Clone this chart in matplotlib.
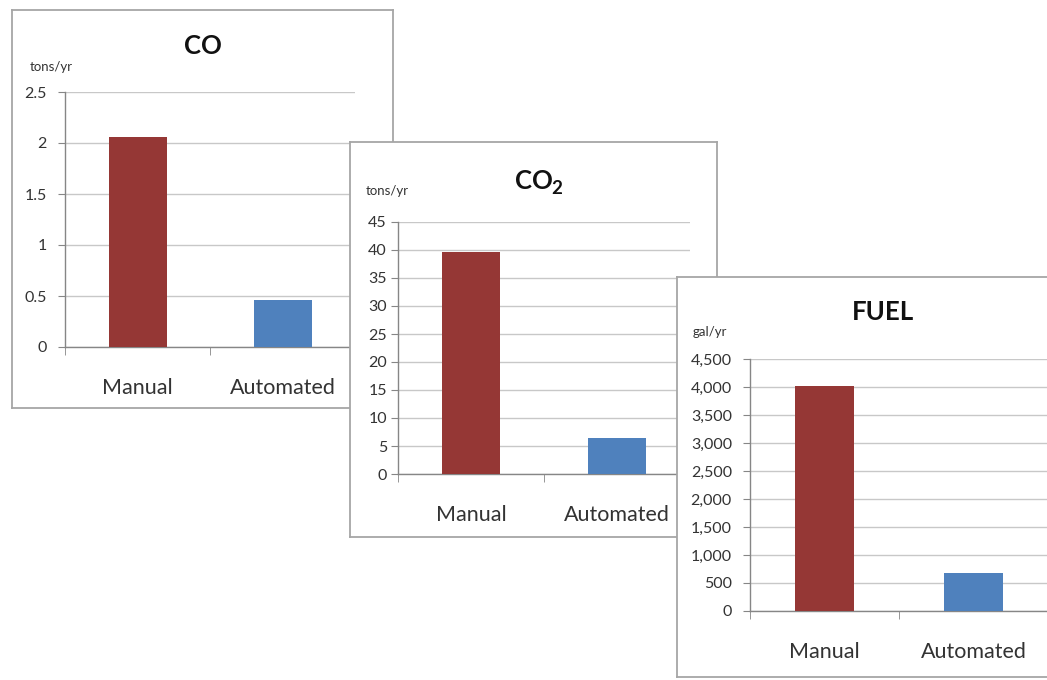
import matplotlib.pyplot as plt
from matplotlib.ticker import FuncFormatter, MultipleLocator, FixedLocator

plt.rcParams['font.family'] = ['Lato', 'DejaVu Sans']

categories = ['Manual', 'Automated']
co_values = [2.06, 0.46]
co2_values = [39.6, 6.4]
fuel_values = [4020, 680]

bar_colors = ['#953735', '#4f81bd']

W, H = 1047, 680
fig = plt.figure(figsize=(W / 100, H / 100), dpi=100)
fig.patch.set_facecolor('white')


def rect(x0, y0, x1, y1):
    # pixel box (top-left origin) -> figure fraction
    return [x0 / W, 1 - y1 / H, (x1 - x0) / W, (y1 - y0) / H]


def panel(z, frame, axbox, values, ymax, step, title, unit, title_xy, unit_xy,
          fmt=None, ypad=8, sub=None):
    fr = fig.add_axes(rect(*frame), zorder=z)
    fr.set_xticks([])
    fr.set_yticks([])
    fr.set_xlim(frame[0], frame[2])
    fr.set_ylim(frame[3], frame[1])
    for s in fr.spines.values():
        s.set_color('#a6a6a6')
        s.set_linewidth(1.3)
    fr.text(title_xy[0], title_xy[1], title, ha='center', va='center',
            fontsize=18.5, fontweight='bold', color='#111111')
    if sub:
        fr.text(sub[1], sub[2], sub[0], ha='left', va='center',
                fontsize=13.5, fontweight='bold', color='#111111')
    fr.text(unit_xy[0], unit_xy[1], unit, ha='center', va='center',
            fontsize=9.5, color='#333333')

    ax = fig.add_axes(rect(*axbox), zorder=z + 1)
    ax.patch.set_alpha(0)
    x = [1, 2]
    ax.bar(x, values, width=0.4, color=bar_colors, zorder=3)
    ax.set_xlim(0.5, 2.5)
    ax.set_ylim(0, ymax)
    ax.yaxis.set_major_locator(MultipleLocator(step))
    if fmt:
        ax.yaxis.set_major_formatter(FuncFormatter(fmt))
    ax.grid(axis='y', color='#c8c8c8', linewidth=1, zorder=0)
    ax.set_axisbelow(True)
    for s in ['top', 'right']:
        ax.spines[s].set_visible(False)
    for s in ['left', 'bottom']:
        ax.spines[s].set_color('#868686')
        ax.spines[s].set_linewidth(1)
    ax.set_xticks(x)
    ax.set_xticklabels(categories)
    ax.xaxis.set_minor_locator(FixedLocator([0.5, 1.5, 2.5]))
    ax.tick_params(axis='x', which='major', length=0, pad=22, labelsize=15.5, labelcolor='#333333')
    ax.tick_params(axis='x', which='minor', length=6, color='#868686')
    ax.tick_params(axis='y', length=5, color='#868686', labelsize=11.5, labelcolor='#333333', pad=ypad)
    return ax


panel(1, (12, 10, 393, 408), (65, 92, 355, 347), co_values, 2.5, 0.5,
      'CO', 'tons/yr', (203, 46), (51, 67),
      fmt=lambda v, p: f'{v:g}', ypad=8)
panel(3, (350, 142, 717, 537), (398, 222, 690, 474), co2_values, 45, 5,
      'CO', 'tons/yr', (534, 181), (387, 191), ypad=3, sub=('2', 551, 188))
panel(5, (677, 277, 1052, 677), (750, 359, 1048, 611), fuel_values, 4500, 500,
      'FUEL', 'gal/yr', (883, 312), (710, 332),
      fmt=lambda v, p: f'{int(v):,}', ypad=8)

fig.savefig('out.png', dpi=100, facecolor='white')
